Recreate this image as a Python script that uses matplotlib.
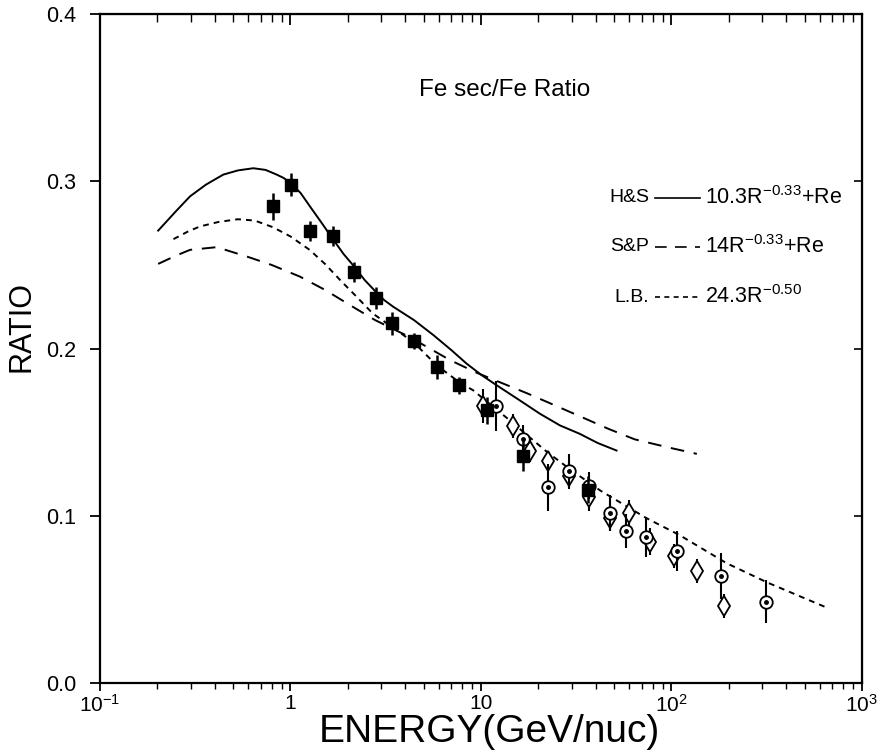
import matplotlib
matplotlib.use("Agg")
import matplotlib.pyplot as plt
from matplotlib.ticker import FixedLocator, FixedFormatter, LogLocator, NullFormatter

plt.rcParams['font.family'] = ['Liberation Sans', 'DejaVu Sans']
plt.rcParams['mathtext.fontset'] = 'custom'
plt.rcParams['mathtext.rm'] = 'Liberation Sans'
plt.rcParams['mathtext.it'] = 'Liberation Sans'
plt.rcParams['mathtext.default'] = 'regular'

# filled squares
sq_x = [0.81, 1.01, 1.26, 1.68, 2.15, 2.81, 3.40, 4.45, 5.85, 7.66, 10.7, 16.7, 36.6]
sq_y = [0.285, 0.298, 0.270, 0.267, 0.246, 0.230, 0.215, 0.2045, 0.189, 0.178, 0.163, 0.136, 0.1155]
sq_err = [0.008, 0.007, 0.006, 0.006, 0.006, 0.0065, 0.007, 0.005, 0.007, 0.005, 0.008, 0.009, 0.008]

# open circles with centre dot
cd_x = [12.05, 16.7, 22.5, 29.1, 36.8, 47.5, 57.7, 73.5, 107, 183, 312]
cd_y = [0.1654, 0.146, 0.117, 0.127, 0.118, 0.1017, 0.091, 0.0871, 0.079, 0.064, 0.0486]
cd_err = [0.015, 0.008, 0.014, 0.010, 0.008, 0.011, 0.010, 0.012, 0.012, 0.014, 0.013]

# open diamonds
dm_x = [10.2, 14.7, 18.1, 22.5, 29.1, 36.8, 47.5, 60.1, 77.6, 103, 136.6, 189]
dm_y = [0.1657, 0.1537, 0.139, 0.133, 0.124, 0.111, 0.0987, 0.1017, 0.0845, 0.076, 0.067, 0.046]
dm_err = [0.010, 0.007, 0.007, 0.006, 0.008, 0.008, 0.008, 0.008, 0.008, 0.007, 0.007, 0.007]

# model curves
hs_x = [0.202, 0.25, 0.297, 0.36, 0.444, 0.53, 0.638, 0.74, 0.846, 0.92, 1.0, 1.13, 1.265,
        1.46, 1.68, 1.9, 2.16, 2.45, 2.8, 3.1, 3.46, 4.45, 5.63, 7.0, 8.4, 10.1, 12.1,
        15.5, 20.4, 26, 33, 41, 51.5]
hs_y = [0.2705, 0.282, 0.291, 0.298, 0.304, 0.3065, 0.3078, 0.3068, 0.304, 0.302, 0.299,
        0.293, 0.285, 0.275, 0.265, 0.2565, 0.249, 0.241, 0.234, 0.229, 0.225, 0.217,
        0.208, 0.199, 0.191, 0.184, 0.178, 0.170, 0.161, 0.154, 0.149, 0.1435, 0.139]

sp_x = [0.202, 0.25, 0.297, 0.41, 0.59, 0.795, 1.12, 1.52, 2.05, 2.78, 4.2, 6.9, 9.5,
        13.1, 17.4, 24.1, 33.8, 46.6, 64.1, 95, 136]
sp_y = [0.2506, 0.2555, 0.259, 0.2606, 0.255, 0.250, 0.243, 0.235, 0.226, 0.217, 0.207,
        0.193, 0.1855, 0.179, 0.1733, 0.1663, 0.159, 0.152, 0.1457, 0.141, 0.137]

lb_x = [0.243, 0.29, 0.335, 0.42, 0.53, 0.65, 0.81, 1.0, 1.26, 1.52, 1.82, 2.2, 2.7, 3.4,
        4.45, 5.85, 7.66, 9.1, 13.5, 22.3, 30, 42.4, 74.1, 110, 195, 320, 665]
lb_y = [0.2654, 0.270, 0.273, 0.2757, 0.2773, 0.2765, 0.2725, 0.267, 0.259, 0.2505, 0.241,
        0.2315, 0.221, 0.213, 0.2035, 0.190, 0.180, 0.175, 0.159, 0.138, 0.127, 0.115,
        0.0985, 0.0885, 0.0716, 0.060, 0.0447]

x_ticks = [0.1, 1, 10, 100, 1000]
x_ticklabels = ['10$^{-1}$', '1', '10', '10$^{2}$', '10$^{3}$']
y_ticks = [0.0, 0.1, 0.2, 0.3, 0.4]
y_ticklabels = ['0.0', '0.1', '0.2', '0.3', '0.4']

legend_names = ['H&S', 'S&P', 'L.B.']
legend_formulas = ['10.3R$^{-0.33}$+Re', '14R$^{-0.33}$+Re', '24.3R$^{-0.50}$']

fig = plt.figure(figsize=(8.89, 7.55), dpi=100)
ax = fig.add_axes([0.1125, 0.0954, 0.857, 0.886])
ax.set_xscale('log')
ax.set_xlim(0.1, 1000)
ax.set_ylim(0.0, 0.4)

ax.plot(hs_x, hs_y, color='k', lw=1.4, ls='-')
ax.plot(sp_x, sp_y, color='k', lw=1.4, ls=(0, (7, 5)))
ax.plot(lb_x, lb_y, color='k', lw=1.4, ls=(0, (3, 2.6)))

ax.errorbar(dm_x, dm_y, yerr=dm_err, fmt='d', color='k', mfc='white', mec='k',
            ms=10, mew=1.3, elinewidth=1.5, capsize=0, zorder=4)
ax.errorbar(cd_x, cd_y, yerr=cd_err, fmt='o', color='k', mfc='white', mec='k',
            ms=9, mew=1.3, elinewidth=1.5, capsize=0, zorder=5)
ax.plot(cd_x, cd_y, ls='none', marker='o', color='k', ms=2.5, zorder=6)
ax.errorbar(sq_x, sq_y, yerr=sq_err, fmt='s', color='k', ms=9,
            elinewidth=1.8, capsize=0, zorder=7)

# axes frame and ticks
for sp in ax.spines.values():
    sp.set_linewidth(1.6)

ax.xaxis.set_major_locator(FixedLocator(x_ticks))
ax.xaxis.set_major_formatter(FixedFormatter(x_ticklabels))
ax.xaxis.set_minor_locator(LogLocator(base=10, subs=range(2, 10)))
ax.xaxis.set_minor_formatter(NullFormatter())
ax.tick_params(axis='x', which='major', direction='out', length=6, width=1.3, pad=2, labelsize=15)
ax.tick_params(axis='x', which='minor', direction='out', length=4, width=1.0)

ax.set_yticks(y_ticks)
ax.set_yticklabels(y_ticklabels)
ax.tick_params(axis='y', which='major', direction='out', length=7, width=1.3, pad=10, labelsize=15.5)

top = ax.secondary_xaxis('top')
top.xaxis.set_major_locator(FixedLocator(x_ticks))
top.xaxis.set_minor_locator(LogLocator(base=10, subs=range(2, 10)))
top.xaxis.set_major_formatter(NullFormatter())
top.xaxis.set_minor_formatter(NullFormatter())
top.tick_params(which='major', direction='in', length=8, width=1.3)
top.tick_params(which='minor', direction='in', length=6, width=1.0)

right = ax.secondary_yaxis('right')
right.set_yticks([0.1, 0.2, 0.3])
right.set_yticklabels([])
right.tick_params(direction='in', length=6, width=1.2)

# title and legend block
ax.text(0.531, 0.886, 'Fe sec/Fe Ratio', transform=ax.transAxes,
        ha='center', va='center', fontsize=17.5)

leg_y = [0.725, 0.652, 0.577]
leg_styles = ['-', (0, (7, 5)), (0, (3, 2.6))]
for name, formula, yy, ls in zip(legend_names, legend_formulas, leg_y, leg_styles):
    ax.text(0.721, yy, name, transform=ax.transAxes, ha='right', va='center', fontsize=14)
    ax.plot([0.729, 0.787], [yy, yy], transform=ax.transAxes, color='k', lw=1.2, ls=ls)
    ax.text(0.794, yy, formula, transform=ax.transAxes, ha='left', va='center', fontsize=15.5)

fig.text(0.551, 0.030, 'ENERGY(GeV/nuc)', ha='center', va='center', fontsize=28)
fig.text(0.024, 0.567, 'RATIO', ha='center', va='center', rotation=90, fontsize=22)

fig.savefig('out.png', dpi=100)
